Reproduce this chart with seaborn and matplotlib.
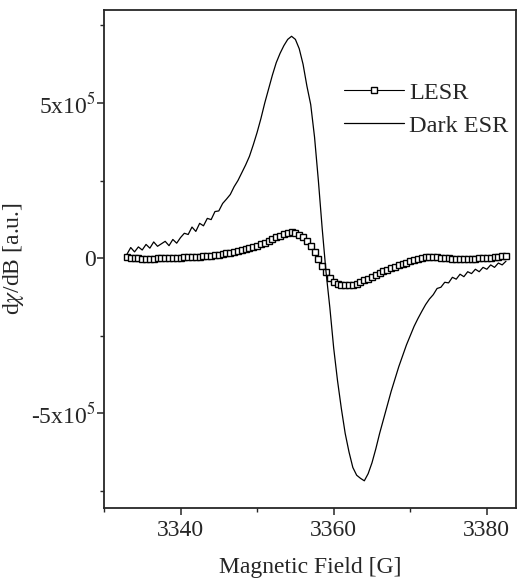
import numpy as np
import pandas as pd
import matplotlib
matplotlib.use("Agg")
import matplotlib.pyplot as plt
import matplotlib.ticker as mticker
import seaborn as sns

# ── Data (y in units of 1e5) ─────────────────────────────────────────────────
field = [3333.0, 3333.5, 3334.0, 3334.5, 3335.0, 3335.5, 3336.0, 3336.5, 3337.0, 3337.5,
         3338.0, 3338.5, 3339.0, 3339.5, 3340.0, 3340.5, 3341.0, 3341.5, 3342.0, 3342.5,
         3343.0, 3343.5, 3344.0, 3344.5, 3345.0, 3345.5, 3346.0, 3346.5, 3347.0, 3347.5,
         3348.0, 3348.5, 3349.0, 3349.5, 3350.0, 3350.5, 3351.0, 3351.5, 3352.0, 3352.5,
         3353.0, 3353.5, 3354.0, 3354.5, 3355.0, 3355.5, 3356.0, 3356.5, 3357.0, 3357.5,
         3358.0, 3358.5, 3359.0, 3359.5, 3360.0, 3360.5, 3361.0, 3361.5, 3362.0, 3362.5,
         3363.0, 3363.5, 3364.0, 3364.5, 3365.0, 3365.5, 3366.0, 3366.5, 3367.0, 3367.5,
         3368.0, 3368.5, 3369.0, 3369.5, 3370.0, 3370.5, 3371.0, 3371.5, 3372.0, 3372.5,
         3373.0, 3373.5, 3374.0, 3374.5, 3375.0, 3375.5, 3376.0, 3376.5, 3377.0, 3377.5,
         3378.0, 3378.5, 3379.0, 3379.5, 3380.0, 3380.5, 3381.0, 3381.5, 3382.0, 3382.5]

lesr = [0.02, 0.01, 0.00, -0.01, -0.02, -0.02, -0.02, -0.02, -0.01, -0.01,
        0.00, 0.00, 0.00, 0.01, 0.01, 0.02, 0.02, 0.03, 0.04, 0.05,
        0.06, 0.07, 0.08, 0.10, 0.11, 0.13, 0.15, 0.17, 0.20, 0.23,
        0.26, 0.29, 0.32, 0.36, 0.40, 0.44, 0.49, 0.55, 0.61, 0.67,
        0.72, 0.77, 0.81, 0.84, 0.82, 0.76, 0.68, 0.56, 0.40, 0.20,
        -0.04, -0.26, -0.46, -0.64, -0.76, -0.83, -0.86, -0.87, -0.87, -0.86,
        -0.83, -0.78, -0.72, -0.66, -0.60, -0.54, -0.48, -0.43, -0.38, -0.33,
        -0.28, -0.23, -0.19, -0.15, -0.11, -0.07, -0.03, 0.00, 0.02, 0.03,
        0.03, 0.02, 0.01, 0.00, -0.01, -0.02, -0.02, -0.02, -0.02, -0.02,
        -0.02, -0.02, -0.01, -0.01, 0.00, 0.01, 0.02, 0.04, 0.06, 0.08]

dark = [0.12, 0.34, 0.20, 0.36, 0.26, 0.44, 0.32, 0.52, 0.38, 0.46,
        0.54, 0.40, 0.60, 0.48, 0.66, 0.80, 0.76, 1.00, 0.86, 1.12,
        1.04, 1.28, 1.24, 1.50, 1.52, 1.76, 1.90, 2.05, 2.30, 2.50,
        2.75, 3.00, 3.28, 3.65, 4.05, 4.50, 5.00, 5.45, 5.90, 6.30,
        6.60, 6.85, 7.05, 7.15, 7.05, 6.75, 6.25, 5.55, 4.95, 3.90,
        2.50, 0.95, -0.45, -1.60, -2.90, -3.95, -4.85, -5.65, -6.25, -6.75,
        -7.00, -7.10, -7.18, -6.95, -6.60, -6.15, -5.65, -5.20, -4.75, -4.30,
        -3.90, -3.50, -3.15, -2.80, -2.50, -2.20, -1.95, -1.72, -1.50, -1.32,
        -1.18, -0.98, -0.94, -0.78, -0.80, -0.62, -0.68, -0.52, -0.60, -0.44,
        -0.50, -0.36, -0.44, -0.30, -0.36, -0.22, -0.30, -0.16, -0.22, -0.10]

y_ticks = [-5e5, 0, 5e5]
y_tick_labels = ["-5x10$^5$", "0", "5x10$^5$"]
x_ticks = [3340, 3360, 3380]

df = pd.DataFrame({"field": field,
                   "LESR": np.array(lesr) * 1e5,
                   "Dark ESR": np.array(dark) * 1e5})

# ── Style ────────────────────────────────────────────────────────────────────
sns.set_style("ticks")
plt.rcParams.update({
    "font.family": ["Liberation Serif", "DejaVu Serif"],
    "mathtext.fontset": "stix",
    "font.size": 17,
    "axes.linewidth": 1.3,
    "xtick.direction": "out",
    "ytick.direction": "out",
})

fig = plt.figure(figsize=(5.17, 5.83), dpi=100)
ax = fig.add_axes([0.201, 0.129, 0.797, 0.854])

sns.lineplot(data=df, x="field", y="LESR", ax=ax, color="black", lw=0.8,
             marker="s", markersize=4.6, markerfacecolor="white",
             markeredgecolor="black", markeredgewidth=1.0, label="LESR")
sns.lineplot(data=df, x="field", y="Dark ESR", ax=ax, color="black", lw=0.9,
             label="Dark ESR")

ax.set_xlim(3330, 3383.8)
ax.set_ylim(-8.05e5, 8.0e5)
ax.set_xticks(x_ticks)
ax.xaxis.set_minor_locator(mticker.MultipleLocator(10))
ax.set_yticks(y_ticks)
ax.set_yticklabels(y_tick_labels)
ax.yaxis.set_minor_locator(mticker.MultipleLocator(2.5e5))
ax.tick_params(which="major", length=5, width=1.1, labelsize=17)
ax.tick_params(axis="y", which="major", pad=1)
ax.tick_params(which="minor", length=3, width=1.0)

ax.set_xlabel("Magnetic Field [G]", fontsize=17, labelpad=12)
ax.set_ylabel("d$\\chi$/dB [a.u.]", fontsize=17)
ax.yaxis.set_label_coords(-0.19, 0.5)

for s in ax.spines.values():
    s.set_visible(True)

ax.legend(loc="upper right", bbox_to_anchor=(1.035, 0.9), frameon=False,
          handlelength=2.5, handletextpad=0.2, labelspacing=0.45,
          numpoints=1, fontsize=17.5)

fig.savefig("out.png", dpi=100)
